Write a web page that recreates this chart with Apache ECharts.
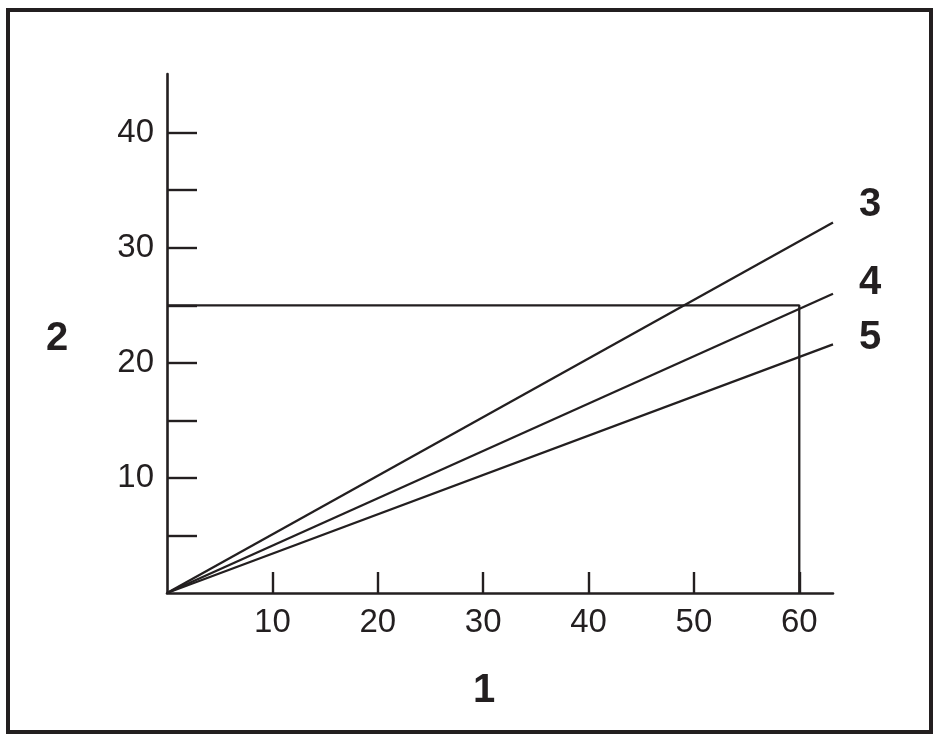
<!DOCTYPE html>
<html>
<head>
<meta charset="utf-8">
<script src="https://cdn.jsdelivr.net/npm/echarts@6/dist/echarts.min.js"></script>
<style>html,body{margin:0;padding:0;background:#fff}#c{width:939px;height:745px}</style>
</head>
<body>
<div id="c"></div>
<script>
// ---- data ----
var xTicks = [10, 20, 30, 40, 50, 60];
var xTickLabels = [10, 20, 30, 40, 50, 60];
var yTicks = [5, 10, 15, 20, 25, 30, 35, 40];
var yTickLabels = [10, 20, 30, 40];
var lineNames = ['3', '4', '5'];
var line3 = [[0, 0], [63.2, 32.2]];
var line4 = [[0, 0], [63.2, 26.0]];
var line5 = [[0, 0], [63.2, 21.6]];
var guide = [[0, 25], [60, 25], [60, 0]];
var xTitle = '1';
var yTitle = '2';

var INK = '#231f20';
var FONT = 'Liberation Sans, Arial, sans-serif';
var chart = echarts.init(document.getElementById('c'), null, {renderer: 'canvas'});

function lineSeries(name, data, offY) {
  return {
    name: name, type: 'line', data: data, symbol: 'none', silent: true,
    lineStyle: {color: INK, width: 2.3},
    endLabel: {
      show: true, formatter: name, color: INK, fontSize: 40, fontWeight: 'bold',
      fontFamily: FONT, distance: 26, offset: [0, offY]
    }
  };
}

chart.setOption({
  animation: false,
  backgroundColor: '#fff',
  grid: {left: 167, right: 106, top: 74, bottom: 152, containLabel: false},
  xAxis: {
    type: 'value', min: 0, max: 63.2,
    axisLine: {show: true, onZero: false, lineStyle: {color: INK, width: 2.6}},
    axisTick: {show: true, inside: true, length: 21, lineStyle: {color: INK, width: 2.4}, customValues: xTicks},
    axisLabel: {show: true, customValues: xTickLabels, color: INK, fontSize: 33, margin: 13, fontFamily: FONT},
    splitLine: {show: false}
  },
  yAxis: {
    type: 'value', min: 0, max: 45.1,
    axisLine: {show: true, onZero: false, lineStyle: {color: INK, width: 2.6}},
    axisTick: {show: true, inside: true, length: 30, lineStyle: {color: INK, width: 2.4}, customValues: yTicks},
    axisLabel: {show: true, customValues: yTickLabels, color: INK, fontSize: 33, margin: 13, fontFamily: FONT},
    splitLine: {show: false}
  },
  series: [
    {type: 'line', data: guide, symbol: 'none', silent: true, lineStyle: {color: INK, width: 2.3}},
    lineSeries(lineNames[0], line3, -17),
    lineSeries(lineNames[1], line4, -11),
    lineSeries(lineNames[2], line5, -6)
  ],
  graphic: [
    {type: 'rect', shape: {x: 8, y: 10, width: 923, height: 722},
      style: {fill: null, stroke: INK, lineWidth: 4}, silent: true},
    {type: 'text', x: 484, y: 691, style: {text: xTitle, fill: INK, fontSize: 40, fontWeight: 'bold',
      fontFamily: FONT, textAlign: 'center', textVerticalAlign: 'middle'}},
    {type: 'text', x: 57, y: 339, style: {text: yTitle, fill: INK, fontSize: 40, fontWeight: 'bold',
      fontFamily: FONT, textAlign: 'center', textVerticalAlign: 'middle'}}
  ]
});
</script>
</body>
</html>
